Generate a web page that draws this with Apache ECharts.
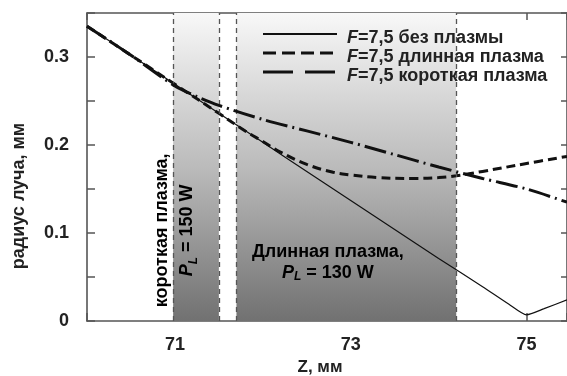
<!DOCTYPE html>
<html>
<head>
<meta charset="utf-8">
<script src="https://cdn.jsdelivr.net/npm/echarts@6/dist/echarts.min.js"></script>
<style>
  html, body { margin: 0; padding: 0; background: #fff; }
  #chart { width: 567px; height: 376px; }
</style>
</head>
<body>
<div id="chart"></div>
<script>
// Beam radius (mm) versus position Z (mm)
const zNoPlasma = [70.0, 70.5, 71.0, 71.5, 72.0, 72.5, 73.0, 73.5, 74.0, 74.5, 74.8, 75.0, 75.2, 75.46];
const rNoPlasma = [0.335, 0.302, 0.269, 0.236, 0.203, 0.170, 0.137, 0.104, 0.071, 0.039, 0.019, 0.007, 0.014, 0.024];

const zLong = [70.0, 70.5, 71.0, 71.5, 71.8, 72.0, 72.2, 72.5, 72.8, 73.0, 73.3, 73.7, 74.0, 74.2, 74.5, 75.0, 75.46];
const rLong = [0.335, 0.302, 0.269, 0.236, 0.216, 0.204, 0.192, 0.178, 0.169, 0.166, 0.163, 0.162, 0.163, 0.165, 0.170, 0.179, 0.187];

const zShort = [70.0, 70.5, 71.0, 71.25, 71.5, 72.0, 72.5, 73.0, 73.5, 74.0, 74.5, 75.0, 75.46];
const rShort = [0.335, 0.302, 0.267, 0.255, 0.245, 0.229, 0.216, 0.203, 0.189, 0.175, 0.162, 0.150, 0.135];

// Plasma zones along Z
const shortZone = [70.98, 71.5];
const longZone = [71.7, 74.2];

const seriesNames = ['F=7,5 без плазмы', 'F=7,5 длинная плазма', 'F=7,5 короткая плазма'];

const zip = (xs, ys) => xs.map((x, i) => [x, ys[i]]);

const FONT = '"Liberation Sans", Arial, sans-serif';
const AXIS_COLOR = '#555';
const INK = '#111';
const TEXT = '#222';

const zoneFill = {
  type: 'linear', x: 0, y: 0, x2: 0, y2: 1,
  colorStops: [
    { offset: 0, color: '#f8f8f8' },
    { offset: 0.5, color: '#bbbbbb' },
    { offset: 1, color: '#717171' }
  ]
};

const chart = echarts.init(document.getElementById('chart'), null, { renderer: 'canvas' });

const option = {
  animation: false,
  backgroundColor: '#fff',
  grid: { left: 87, right: 0, top: 13, bottom: 55, outerBoundsMode: 'none', containLabel: false },
  textStyle: { fontFamily: FONT },
  xAxis: [
    {
      type: 'value', min: 70, max: 75.46, interval: 1,
      name: 'Z, мм', nameLocation: 'middle', nameGap: 38,
      nameTextStyle: { fontFamily: FONT, fontWeight: 'bold', fontSize: 17, color: TEXT, padding: [0, 14, 0, 0] },
      axisLine: { show: true, onZero: false, lineStyle: { color: AXIS_COLOR, width: 1.6 } },
      axisTick: { show: true, inside: true, length: 8, lineStyle: { color: AXIS_COLOR, width: 1.5 } },
      axisLabel: {
        margin: 15, fontFamily: FONT, fontWeight: 'bold', fontSize: 18, color: TEXT,
        formatter: v => (Math.abs(v % 2 - 1) < 1e-6 ? String(v) : '')
      },
      splitLine: { show: false }
    },
    {
      type: 'value', position: 'top', min: 70, max: 75.46, interval: 1,
      axisLine: { show: true, onZero: false, lineStyle: { color: AXIS_COLOR, width: 1.6 } },
      axisTick: { show: true, inside: true, length: 7, lineStyle: { color: AXIS_COLOR, width: 1.5 } },
      axisLabel: { show: false },
      splitLine: { show: false }
    }
  ],
  yAxis: [
    {
      type: 'value', min: 0, max: 0.35, interval: 0.05,
      name: 'радиус луча, мм', nameLocation: 'middle', nameGap: 59,
      nameTextStyle: { fontFamily: FONT, fontWeight: 'bold', fontSize: 18, color: TEXT, padding: [0, 58, 0, 0] },
      axisLine: { show: true, onZero: false, lineStyle: { color: AXIS_COLOR, width: 1.6 } },
      axisTick: { show: true, inside: true, length: 8, lineStyle: { color: AXIS_COLOR, width: 1.5 } },
      axisLabel: {
        margin: 18, fontFamily: FONT, fontWeight: 'bold', fontSize: 18, color: TEXT,
        formatter: v => {
          const k = Math.round(v * 100);
          if (k % 10 !== 0) return '';
          return k === 0 ? '0' : (k / 100).toFixed(1);
        }
      },
      splitLine: { show: false }
    },
    {
      type: 'value', position: 'right', min: 0, max: 0.35, interval: 0.05,
      axisLine: { show: true, onZero: false, lineStyle: { color: AXIS_COLOR, width: 1.6 } },
      axisTick: { show: true, inside: true, length: 6, lineStyle: { color: AXIS_COLOR, width: 1.5 } },
      axisLabel: { show: false },
      splitLine: { show: false }
    }
  ],
  legend: {
    orient: 'vertical',
    left: 263, top: 24,
    itemWidth: 74, itemHeight: 12, itemGap: 0,
    textStyle: {
      fontFamily: FONT, fontWeight: 'bold', fontSize: 18, color: TEXT, lineHeight: 19,
      rich: {
        i: { fontFamily: FONT, fontWeight: 'bold', fontStyle: 'italic', fontSize: 18, color: TEXT },
        n: { fontFamily: FONT, fontWeight: 'bold', fontSize: 18, color: TEXT }
      }
    },
    formatter: name => '{i|F}{n|' + name.slice(1) + '}',
    data: [
      { name: seriesNames[0], icon: 'none' },
      { name: seriesNames[1], icon: 'none' },
      { name: seriesNames[2], icon: 'none' }
    ]
  },
  series: [
    {
      // plasma zones in the background
      type: 'line', data: [], silent: true, z: 1,
      markArea: {
        silent: true,
        itemStyle: { color: zoneFill },
        data: [
          [{ xAxis: shortZone[0] }, { xAxis: shortZone[1] }],
          [{ xAxis: longZone[0] }, { xAxis: longZone[1] }]
        ]
      },
      markLine: {
        silent: true, symbol: 'none', label: { show: false },
        lineStyle: { color: '#555', type: [5, 4], width: 1.3 },
        data: [
          { xAxis: shortZone[0] }, { xAxis: shortZone[1] },
          { xAxis: longZone[0] }, { xAxis: longZone[1] }
        ]
      }
    },
    {
      name: seriesNames[0], type: 'line', z: 3,
      data: zip(zNoPlasma, rNoPlasma),
      showSymbol: false, symbol: 'none', smooth: 0.2,
      lineStyle: { color: INK, width: 1.2, type: 'solid' },
      itemStyle: { color: INK }
    },
    {
      name: seriesNames[1], type: 'line', z: 4,
      data: zip(zLong, rLong),
      showSymbol: false, symbol: 'none', smooth: 0.4,
      lineStyle: { color: INK, width: 3, type: [9, 5] },
      itemStyle: { color: INK }
    },
    {
      name: seriesNames[2], type: 'line', z: 5,
      data: zip(zShort, rShort),
      showSymbol: false, symbol: 'none', smooth: 0.3,
      lineStyle: { color: INK, width: 3, type: [22, 5, 2, 5] },
      itemStyle: { color: INK }
    }
  ]
};

chart.setOption(option);

// Legend line samples and zone captions
const g = [];
const legendRows = [
  { y: 34, dash: null, w: 1.8 },
  { y: 53, dash: [13, 6], w: 3 },
  { y: 72, dash: [30, 12], w: 3 }
];
legendRows.forEach(row => {
  g.push({
    type: 'line', z: 100,
    shape: { x1: 263, y1: row.y, x2: 337, y2: row.y },
    style: { stroke: INK, lineWidth: row.w, lineDash: row.dash }
  });
});

const captionRich = {
  t: { fontFamily: FONT, fontWeight: 'bold', fontSize: 18, color: TEXT },
  p: { fontFamily: FONT, fontWeight: 'bold', fontStyle: 'italic', fontSize: 18, color: TEXT },
  s: { fontFamily: FONT, fontWeight: 'bold', fontStyle: 'italic', fontSize: 12, color: TEXT, verticalAlign: 'bottom', padding: [6, 0, 0, 0] }
};

// caption positions given in data coordinates (Z, radius)
const longPos = chart.convertToPixel({ gridIndex: 0 }, [72.74, 0.067]);
g.push({
  type: 'text', z: 100, x: longPos[0], y: longPos[1],
  style: {
    text: '{t|Длинная плазма,}\n{p|P}{s|L}{t| = 130 W}',
    rich: captionRich, align: 'center', verticalAlign: 'middle', lineHeight: 21
  }
});

const shortPos = chart.convertToPixel({ gridIndex: 0 }, [71.0, 0.103]);
g.push({
  type: 'text', z: 100, x: shortPos[0], y: shortPos[1], rotation: Math.PI / 2,
  style: {
    text: '{t|короткая плазма,}\n{p|P}{s|L}{t| = 150 W}',
    rich: captionRich, align: 'center', verticalAlign: 'middle', lineHeight: 25
  }
});

chart.setOption({ graphic: g });
</script>
</body>
</html>
